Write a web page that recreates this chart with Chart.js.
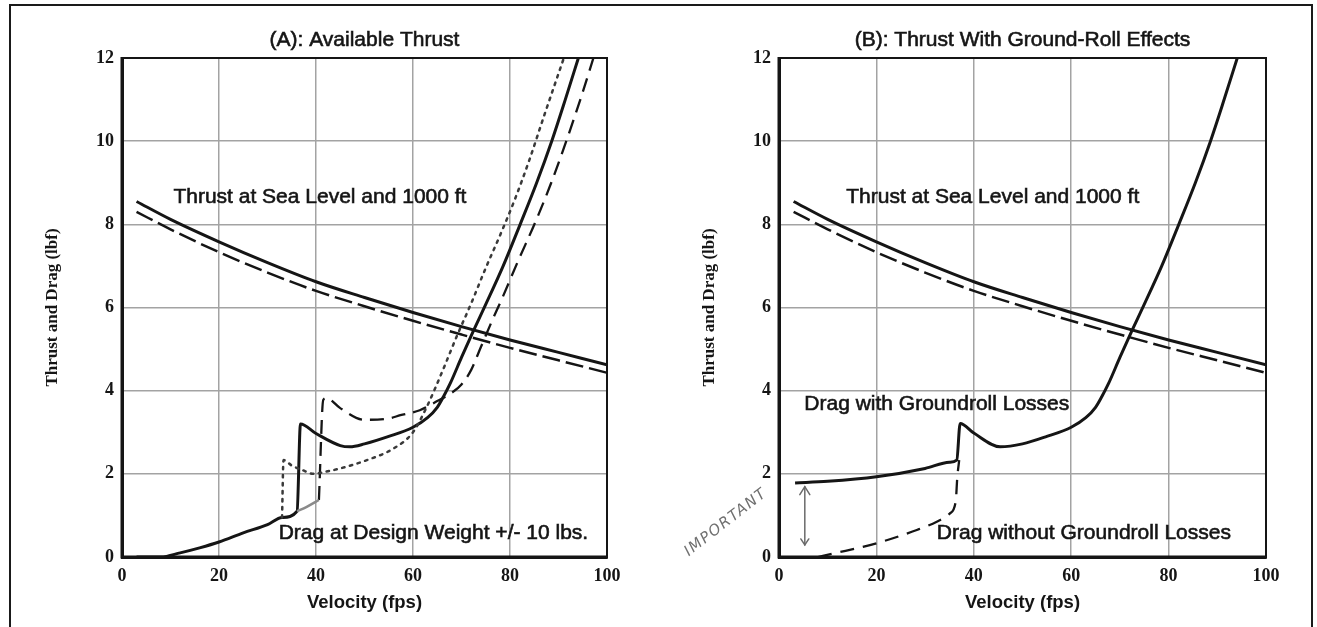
<!DOCTYPE html>
<html><head><meta charset="utf-8">
<script src="https://cdn.jsdelivr.net/npm/chart.js@4.4.1/dist/chart.umd.min.js"></script>
<style>
html,body{margin:0;padding:0;background:#fff;width:1317px;height:627px;overflow:hidden}
#frame{position:absolute;left:9px;top:4px;width:1304px;height:700px;border:2px solid #1a1a1a;box-sizing:border-box}
canvas{position:absolute;top:0}
#ca{left:0}
#cb{left:657px}
</style></head><body>
<div id="frame"></div>
<canvas id="ca" width="658" height="627"></canvas>
<canvas id="cb" width="660" height="627"></canvas>
<script>
// ---- tick values ----
const xTicks = [0, 20, 40, 60, 80, 100];
const yTicks = [0, 2, 4, 6, 8, 10, 12];

// ---- thrust curves (both panels) ----
const thrustSeaLevelV = [3, 10, 20, 30, 40, 50, 60, 70, 80, 90, 100];
const thrustSeaLevel  = [8.55, 8.12, 7.58, 7.08, 6.62, 6.24, 5.88, 5.54, 5.22, 4.92, 4.62];
const thrust1000V     = [3, 10, 20, 30, 40, 50, 60, 70, 80, 90, 100];
const thrust1000      = [8.3, 7.88, 7.33, 6.84, 6.4, 6.03, 5.68, 5.35, 5.03, 4.73, 4.43];

// ---- panel A: drag at design weight +/- 10 lbs ----
const dragDesignV = [3, 8, 12, 16, 20, 25, 30, 33, 36.1, 36.8, 40, 45, 47, 50, 55, 60, 63, 65, 66.3, 67.7, 70, 72.5, 74.9, 78.6, 82.1, 85.5, 88.6, 91.4, 94.1];
const dragDesign  = [0, 0, 0.1, 0.22, 0.36, 0.58, 0.78, 0.95, 1.1, 3.2, 2.97, 2.68, 2.65, 2.72, 2.9, 3.12, 3.35, 3.6, 3.86, 4.18, 4.8, 5.45, 6.05, 7.0, 8.0, 9.0, 10.0, 11.0, 12.0];
const dragLightV  = [33.0, 33.3, 35, 37, 39.5, 42, 45, 50.5, 56, 60, 63, 66, 69, 72, 75, 78, 81, 84, 87, 91.1];
const dragLight   = [0.95, 2.33, 2.2, 2.1, 2.0, 2.05, 2.13, 2.33, 2.61, 3.0, 3.65, 4.45, 5.3, 6.1, 6.95, 7.75, 8.6, 9.55, 10.6, 12.0];
const heavyRollV  = [36.1, 38, 40.6];
const heavyRoll   = [1.1, 1.2, 1.37];
const dragHeavyV  = [40.6, 41.5, 42.2, 45, 50, 55, 57.4, 61.4, 65, 68, 70, 72, 74, 76.3, 78.3, 81.6, 85.4, 88.5, 91.6, 94.5, 97.2];
const dragHeavy   = [1.37, 3.78, 3.82, 3.58, 3.3, 3.33, 3.41, 3.53, 3.75, 3.95, 4.15, 4.5, 5.05, 5.68, 6.2, 7.1, 8.1, 9.0, 10.0, 11.0, 12.0];

// ---- panel B: drag with / without ground-roll losses ----
const dragWithRollV = [3.3, 10, 20, 30, 35, 36.5, 37.2, 40, 45.4, 50, 55, 60, 63, 65, 66.3, 67.7, 70, 72.5, 74.9, 78.6, 82.1, 85.5, 88.6, 91.4, 94.1];
const dragWithRoll  = [1.78, 1.82, 1.93, 2.13, 2.28, 2.33, 3.21, 2.98, 2.65, 2.72, 2.9, 3.12, 3.35, 3.6, 3.86, 4.18, 4.8, 5.45, 6.05, 7.0, 8.0, 9.0, 10.0, 11.0, 12.0];
const dragNoRollV   = [8, 11, 20, 28.3, 32.4, 35.1, 36.3, 36.6, 37];
const dragNoRoll    = [0, 0.08, 0.33, 0.65, 0.85, 1.05, 1.35, 1.9, 2.33];

// ---- texts ----
const titleA = '(A): Available Thrust';
const titleB = '(B): Thrust With Ground-Roll Effects';
const xTitle = 'Velocity (fps)';
const yTitle = 'Thrust and Drag (lbf)';
const notesA = [{t:'Thrust at Sea Level and 1000 ft', x:10.6, y:8.66}, {t:'Drag at Design Weight +/- 10 lbs.', x:32.3, y:0.58}];
const notesB = [{t:'Thrust at Sea Level and 1000 ft', x:13.8, y:8.66}, {t:'Drag with Groundroll Losses', x:5.2, y:3.67}, {t:'Drag without Groundroll Losses', x:32.4, y:0.57}];

const pts = (vs, ds) => vs.map((v, i) => ({x: v, y: ds[i]}));
const INK = '#151515';
const SANS = '"Liberation Sans", Arial, sans-serif';
const SERIF = '"Liberation Serif", "Times New Roman", serif';

function line(data, opts) {
  return Object.assign({data, showLine: true, pointRadius: 0, borderColor: INK, borderWidth: 3, cubicInterpolationMode: 'monotone', borderJoinStyle: 'round', fill: false}, opts || {});
}

function overlay(title, notes, extra) {
  return {
    id: 'overlay',
    afterDatasetsDraw(chart) {
      const {ctx, chartArea: a, scales: {x, y}} = chart;
      ctx.save();
      ctx.strokeStyle = INK; ctx.lineWidth = 2;
      ctx.strokeRect(a.left, a.top, a.right - a.left, a.bottom - a.top);
      ctx.lineWidth = 3;
      ctx.beginPath(); ctx.moveTo(a.left, a.top - 1); ctx.lineTo(a.left, a.bottom); ctx.lineTo(a.right + 1, a.bottom); ctx.stroke();
      ctx.fillStyle = INK; ctx.strokeStyle = INK; ctx.lineWidth = 0.6;
      ctx.font = '21px ' + SANS; ctx.textAlign = 'center'; ctx.textBaseline = 'middle';
      ctx.fillText(title, (a.left + a.right) / 2, 40);
      ctx.strokeText(title, (a.left + a.right) / 2, 40);
      ctx.textAlign = 'left';
      notes.forEach(n => {
        const px = x.getPixelForValue(n.x), py = y.getPixelForValue(n.y);
        ctx.fillText(n.t, px, py); ctx.strokeText(n.t, px, py);
      });
      if (extra) extra(ctx, x, y);
      ctx.restore();
    }
  };
}

function options() {
  return {
    responsive: false, animation: false,
    layout: {padding: {left: 0, right: 51, top: 58, bottom: 0}},
    plugins: {legend: {display: false}, tooltip: {enabled: false}, title: {display: false}},
    scales: {
      x: {
        type: 'linear', min: 0, max: 100,
        afterBuildTicks: s => { s.ticks = xTicks.map(v => ({value: v})); },
        grid: {color: '#a3a3a3', lineWidth: 1.5, drawTicks: false},
        border: {display: true, color: INK, width: 3},
        ticks: {padding: 9, color: INK, maxRotation: 0, font: {family: SERIF, size: 18, weight: 'bold'}},
        title: {display: true, text: xTitle, color: INK, font: {family: SANS, size: 18.5, weight: 'bold'}, padding: {top: 0, bottom: 13}},
        afterFit: s => { s.height = 70; }
      },
      y: {
        type: 'linear', min: 0, max: 12,
        afterBuildTicks: s => { s.ticks = yTicks.map(v => ({value: v})); },
        grid: {color: '#a3a3a3', lineWidth: 1.5, drawTicks: false},
        border: {display: true, color: INK, width: 3},
        ticks: {padding: 8, color: INK, font: {family: SERIF, size: 18, weight: 'bold'}},
        title: {display: true, text: yTitle, color: INK, font: {family: SERIF, size: 17, weight: 'bold'}, padding: {top: 42, bottom: 0}},
        afterFit: s => { s.width = 122; }
      }
    }
  };
}

const thrustSets = () => [
  line(pts(thrustSeaLevelV, thrustSeaLevel), {borderWidth: 3}),
  line(pts(thrust1000V, thrust1000), {borderWidth: 2.5, borderDash: [18, 6]})
];

new Chart(document.getElementById('ca'), {
  type: 'scatter',
  data: {datasets: [
    ...thrustSets(),
    line(pts(heavyRollV, heavyRoll), {borderColor: '#8a8a8a', borderWidth: 2.5}),
    line(pts(dragLightV, dragLight), {borderColor: '#3a3a3a', borderWidth: 2.5, borderDash: [2.5, 5.5], borderCapStyle: 'round'}),
    line(pts(dragHeavyV, dragHeavy), {borderWidth: 2.3, borderDash: [14, 8]}),
    line(pts(dragDesignV, dragDesign), {borderWidth: 3})
  ]},
  options: options(),
  plugins: [overlay(titleA, notesA)]
});

new Chart(document.getElementById('cb'), {
  type: 'scatter',
  data: {datasets: [
    ...thrustSets(),
    line(pts(dragNoRollV, dragNoRoll), {borderWidth: 2.3, borderDash: [14, 9]}),
    line(pts(dragWithRollV, dragWithRoll), {borderWidth: 3})
  ]},
  options: options(),
  plugins: [overlay(titleB, notesB, (ctx, x, y) => {
    // hand-drawn double arrow and note
    const ax = x.getPixelForValue(5.3), y1 = y.getPixelForValue(0.29), y2 = y.getPixelForValue(1.69);
    ctx.strokeStyle = '#6a6a6a'; ctx.lineWidth = 1.5; ctx.lineCap = 'round';
    ctx.beginPath(); ctx.moveTo(ax, y1); ctx.lineTo(ax, y2); ctx.stroke();
    ctx.beginPath(); ctx.moveTo(ax - 5, y2 + 8); ctx.lineTo(ax, y2); ctx.lineTo(ax + 5, y2 + 8); ctx.stroke();
    ctx.beginPath(); ctx.moveTo(ax - 4, y1 - 6); ctx.lineTo(ax, y1); ctx.lineTo(ax + 4, y1 - 6); ctx.stroke();
    const tx = x.getPixelForValue(-10.9), ty = y.getPixelForValue(0.83);
    ctx.translate(tx, ty); ctx.rotate(-38 * Math.PI / 180);
    ctx.fillStyle = '#707070'; ctx.font = 'italic 15px "DejaVu Sans", sans-serif';
    ctx.textAlign = 'center'; ctx.textBaseline = 'middle';
    try { ctx.letterSpacing = '1.5px'; } catch (e) {}
    ctx.fillText('IMPORTANT', 0, 0);
  })]
});
</script>
</body></html>
